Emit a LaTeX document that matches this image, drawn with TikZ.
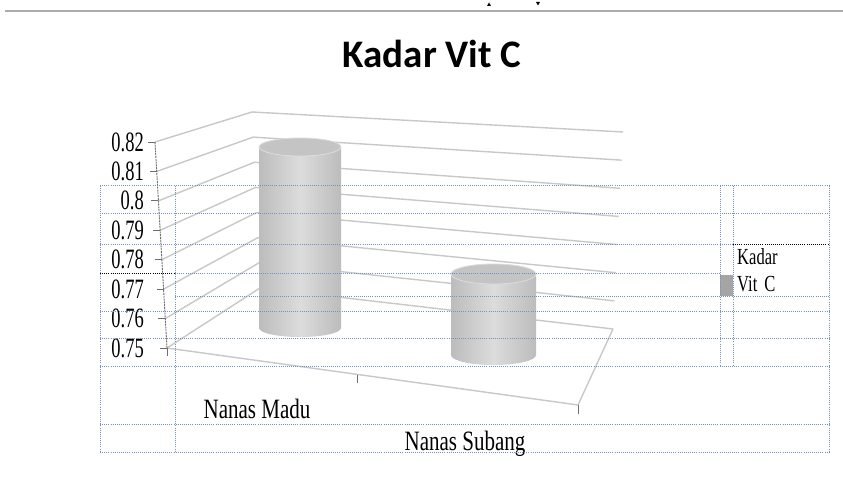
\documentclass[tikz,border=0pt]{standalone}
\usepackage{fontspec}
\usetikzlibrary{calc}
\newfontfamily\titlefont{Carlito}
\newfontfamily\numfont[FakeStretch=0.66]{Liberation Serif}
\newfontfamily\catfont[FakeStretch=0.75]{Liberation Serif}
\newfontfamily\legfont[FakeStretch=0.72]{Liberation Serif}
\definecolor{gridgray}{RGB}{200,200,200}
\definecolor{axisgray}{RGB}{110,110,110}
\definecolor{tblblue}{RGB}{118,144,192}
\definecolor{cylside}{RGB}{188,188,188}
\definecolor{cylmid}{RGB}{220,220,220}
\definecolor{cyltop}{RGB}{196,196,196}
\definecolor{swatch}{RGB}{165,165,165}
\tikzset{
  grid/.style={draw=gridgray, line width=1.4pt},
  axisline/.style={draw=axisgray, line width=0.9pt},
  tbl/.style={draw=tblblue, line width=1pt, dash pattern=on 1pt off 1.1pt},
  blk/.style={draw=black, line width=1pt, dash pattern=on 1pt off 1.1pt},
  numlab/.style={font=\numfont\fontsize{28}{28}\selectfont, anchor=east, inner sep=0pt},
  catlab/.style={font=\catfont\fontsize{28}{28}\selectfont, anchor=base, inner sep=0pt},
  leglab/.style={font=\legfont\fontsize{23}{23}\selectfont, anchor=base west, inner sep=0pt},
}
% cylinder: centre x, top y, bottom y, x radius, y radius
\newcommand\drawcyl[5]{%
  \shade[left color=cylside, right color=cylside, middle color=cylmid]
    (#1-#4,#2) -- (#1-#4,#3)
    .. controls (#1-#4,#3+0.5523*#5) and (#1-0.5523*#4,#3+#5) .. (#1,#3+#5)
    .. controls (#1+0.5523*#4,#3+#5) and (#1+#4,#3+0.5523*#5) .. (#1+#4,#3)
    -- (#1+#4,#2) -- cycle;
  \fill[cyltop, draw=cylmid, line width=0.8pt] (#1,#2) ellipse [x radius=#4, y radius=#5];
}
\begin{document}
\begin{tikzpicture}[x=1pt,y=-1pt]
\useasboundingbox (0,0) rectangle (843,481);
\fill[white] (0,0) rectangle (843,481);

% rule across the top and the clipped glyphs above it
\draw[gray!65, line width=1.8pt] (5,11) -- (843,11);
\fill[black] (487,6) -- (489,2.5) -- (491,6) -- cycle;
\fill[black] (536,2) -- (538,5.5) -- (540,2) -- cycle;

% title
\node[font=\titlefont\bfseries\fontsize{39}{39}\selectfont] (title) at (432,54) {Kadar Vit C};

% corner points of the value grid: front axis, back wall, right end
\foreach \k in {0,...,7}{
  \coordinate (F\k) at ({155+12*\k/7},{142+29.43*\k});
  \coordinate (B\k) at ({252+8*\k/7},{112+25.14*\k});
  \coordinate (R\k) at ({623-10*\k/7},{132+28.14*\k});
}
\coordinate (FR) at (578,405);
\coordinate (T1) at (357,374.5);

% gridlines on side wall and back wall
\foreach \k in {0,...,7}{
  \draw[grid] (F\k) -- (B\k) -- (R\k);
}
% floor edges
\draw[grid] (F7) -- (FR) -- (R7);

% bars
\drawcyl{300}{147}{328}{41}{9}
\drawcyl{493.5}{274}{355}{42.5}{10}

% value axis with ticks
\draw[axisline, dash pattern=on 2pt off 0.8pt] (F0) -- (F7);
\foreach \k in {0,...,7}{
  \draw[axisline] (F\k) -- ++(-7,0);
}
% category ticks
\draw[axisline] (F7) -- ++(0,8);
\draw[axisline] (T1) -- ++(0,8);
\draw[axisline] (FR) -- ++(0,9);

% value labels
\foreach \k/\t in {0/0.82,1/0.81,2/0.8,3/0.79,4/0.78,5/0.77,6/0.76,7/0.75}{
  \node[numlab] (L\k) at (144,{142+29.43*\k}) {\t};
}

% legend
\fill[swatch] (720,275) rectangle (733,296);
\node[leglab] (leg1) at (737,264) {Kadar};
\node[leglab] (leg2) at (737,291) {Vit\hspace{7pt}C};

% category labels
\node[catlab] (cat1) at (257,418) {Nanas Madu};
\node[catlab] (cat2) at (465,450) {Nanas Subang};

% table gridlines
\draw[tbl] (100,186) -- (829,186);
\draw[tbl] (100,214) -- (829,214);
\draw[tbl] (100,244) -- (733,244);
\draw[blk] (733,244) -- (829,244);
\draw[blk] (100,273) -- (175,273);
\draw[tbl] (175,273) -- (720,273);
\draw[tbl] (175,296) -- (829,296);
\draw[tbl] (100,311) -- (829,311);
\draw[tbl] (100,338) -- (829,338);
\draw[tbl] (100,366) -- (829,366);
\draw[tbl] (100,424) -- (829,424);
\draw[tbl] (100,452) -- (829,452);
\draw[tbl] (100,186) -- (100,452);
\draw[tbl] (175,186) -- (175,452);
\draw[tbl] (720,186) -- (720,366);
\draw[tbl] (733,186) -- (733,366);
\draw[tbl] (829,186) -- (829,452);
\end{tikzpicture}
\end{document}
